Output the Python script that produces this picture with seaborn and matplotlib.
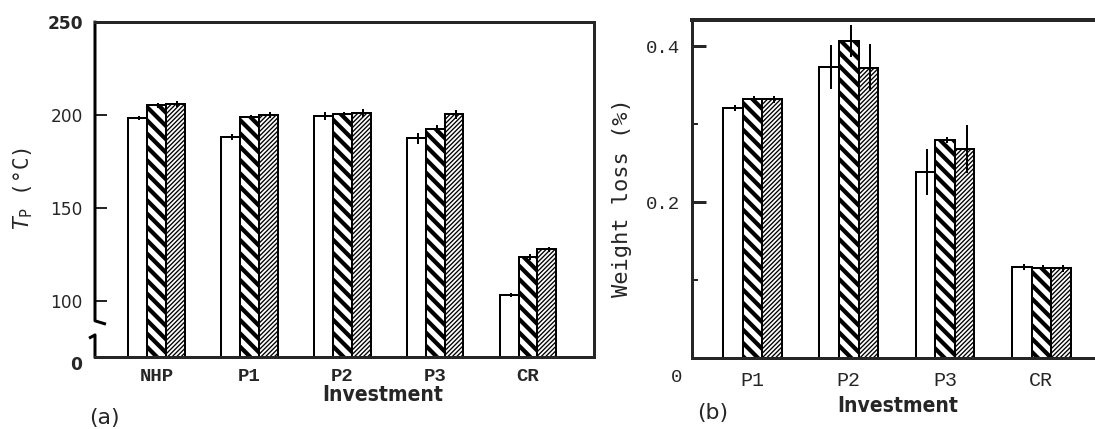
import pandas as pd
import seaborn as sns
import matplotlib.pyplot as plt

# values
investments_a = ['NHP', 'P1', 'P2', 'P3', 'CR']
tp_open = [198.5, 188.3, 199.5, 187.6, 103.2]
tp_coarse = [205.2, 199.2, 200.4, 192.4, 123.8]
tp_fine = [205.9, 200.1, 201.2, 200.4, 127.8]
tp_err_open = [1.0, 1.5, 2.0, 3.0, 1.0]
tp_err_coarse = [1.5, 1.0, 1.5, 2.0, 1.5]
tp_err_fine = [1.5, 1.5, 2.0, 2.5, 1.5]

investments_b = ['P1', 'P2', 'P3', 'CR']
wl_open = [0.321, 0.374, 0.239, 0.117]
wl_coarse = [0.332, 0.407, 0.280, 0.116]
wl_fine = [0.332, 0.373, 0.268, 0.115]
wl_err_open = [0.004, 0.028, 0.030, 0.004]
wl_err_coarse = [0.004, 0.020, 0.004, 0.004]
wl_err_fine = [0.004, 0.030, 0.031, 0.004]

series = ['open', 'coarse', 'fine']
hatches = ['', '\\\\', '//////']

DPI = 80
W, H = 1095, 429
PT = 72 / DPI  # points per pixel

sns.set_style('white')
plt.rcParams['mathtext.fontset'] = 'dejavusans'
plt.rcParams['hatch.linewidth'] = 1.1


def long_table(cats, cols, errs):
    rows = []
    for s, vals, ers in zip(series, cols, errs):
        for c, v, e in zip(cats, vals, ers):
            rows.append({'investment': c, 'series': s, 'value': v, 'err': e})
    return pd.DataFrame(rows)


def draw_bars(ax, df, cats):
    sns.barplot(data=df, x='investment', y='value', hue='series', order=cats,
                hue_order=series, palette=['white'] * 3, saturation=1,
                edgecolor='black', linewidth=2 * PT, width=0.61, gap=0,
                errorbar=None, legend=False, ax=ax)
    hatch_lw = [1.0, 3.8, 1.2]
    for cont, s, h, hw in zip(ax.containers, series, hatches, hatch_lw):
        sub = df[df.series == s].set_index('investment').loc[cats]
        xs, ys = [], []
        for bar in cont:
            bar.set_hatch(h)
            if hasattr(bar, 'set_hatch_linewidth'):
                bar.set_hatch_linewidth(hw)
            xs.append(bar.get_x() + 0.6 * bar.get_width())
            ys.append(bar.get_height())
        ax.errorbar(xs, ys, yerr=sub['err'].values, fmt='none', ecolor='black',
                    elinewidth=2 * PT, capsize=0, zorder=5)
    ax.set_xlabel('')
    ax.set_ylabel('')


def box(left, top, right, bottom):
    return [left / W, 1 - bottom / H, (right - left) / W, (bottom - top) / H]


fig = plt.figure(figsize=(W / DPI, H / DPI), dpi=DPI)
ax1 = fig.add_axes(box(95, 22, 594, 357))
ax2 = fig.add_axes(box(692, 20, 1102, 358))

df_a = long_table(investments_a, [tp_open, tp_coarse, tp_fine],
                  [tp_err_open, tp_err_coarse, tp_err_fine])
df_b = long_table(investments_b, [wl_open, wl_coarse, wl_fine],
                  [wl_err_open, wl_err_coarse, wl_err_fine])
draw_bars(ax1, df_a, investments_a)
draw_bars(ax2, df_b, investments_b)

# panel (a): broken axis starting at 70
ax1.set_xlim(-0.66, 4.71)
ax1.set_ylim(70, 250)
ax1.set_yticks([100, 150, 200, 250])
ax1.set_yticklabels(['100', '150', '200', '250'], family='DejaVu Sans',
                    fontsize=17 * PT)
ax1.get_yticklabels()[-1].set_fontweight('bold')
ax1.tick_params(axis='y', direction='in', length=12 * PT, width=2 * PT,
                pad=12 * PT, left=True)
ax1.tick_params(axis='x', length=0, pad=11 * PT)
for lab in ax1.get_xticklabels():
    lab.set_family('Liberation Mono')
    lab.set_fontweight('bold')
    lab.set_fontsize(19 * PT)
for side in ['top', 'bottom', 'right']:
    ax1.spines[side].set_linewidth(3 * PT)
ax1.spines['left'].set_visible(False)
brk = dict(transform=ax1.transAxes, color='black', lw=3 * PT,
           clip_on=False, solid_capstyle='butt')
ax1.plot([0, 0, 0.022], [1.004, 0.108, 0.098], **brk)
ax1.plot([0, 0, -0.012], [-0.004, 0.066, 0.056], **brk)
ax1.annotate('0', xy=(0, 0), xycoords='axes fraction', xytext=(-19, -8),
             textcoords='offset pixels', ha='center', va='center',
             fontsize=17 * PT, fontweight='bold', family='DejaVu Sans')

# panel (b)
ax2.set_xlim(-0.628, 3.63)
ax2.set_ylim(0, 0.434)
ax2.set_yticks([0.2, 0.4])
ax2.set_yticklabels(['0.2', '0.4'], family='Liberation Mono', fontsize=19 * PT)
ax2.set_yticks([0.1, 0.3], minor=True)
ax2.tick_params(axis='y', which='major', direction='in', length=14 * PT,
                width=3 * PT, pad=12 * PT, left=True)
ax2.tick_params(axis='y', which='minor', direction='in', length=6 * PT,
                width=2 * PT, left=True)
ax2.tick_params(axis='x', length=0, pad=13 * PT)
for lab in ax2.get_xticklabels():
    lab.set_family('Liberation Mono')
    lab.set_fontsize(20 * PT)
for side in ['left', 'bottom', 'right']:
    ax2.spines[side].set_linewidth(3 * PT)
ax2.spines['top'].set_linewidth(4 * PT)
ax2.annotate('0', xy=(0, 0), xycoords='axes fraction', xytext=(-15, -20),
             textcoords='offset pixels', ha='center', va='center',
             fontsize=19 * PT, family='Liberation Mono')

narrow = ['DejaVu Sans', 'Liberation Sans']
for x, y in [(383, 395), (898, 406)]:
    fig.text(x / W, 1 - y / H, 'Investment', ha='center', va='center',
             fontsize=21 * PT, family=narrow, fontweight='bold',
             fontstretch='condensed')
fig.text(104 / W, 1 - 418 / H, '(a)', ha='center', va='center',
         fontsize=22 * PT, family='DejaVu Sans')
fig.text(713 / W, 1 - 413 / H, '(b)', ha='center', va='center',
         fontsize=22 * PT, family='DejaVu Sans')
fig.text(23 / W, 1 - 188 / H, r'$T_{\mathrm{P}}$ (°C)', rotation=90,
         ha='center', va='center', fontsize=21 * PT, family='DejaVu Sans Mono')
fig.text(622 / W, 1 - 198 / H, 'Weight loss (%)', rotation=90,
         ha='center', va='center', fontsize=22 * PT, family='DejaVu Sans Mono')

fig.savefig('out.png', dpi=DPI, facecolor='white')
